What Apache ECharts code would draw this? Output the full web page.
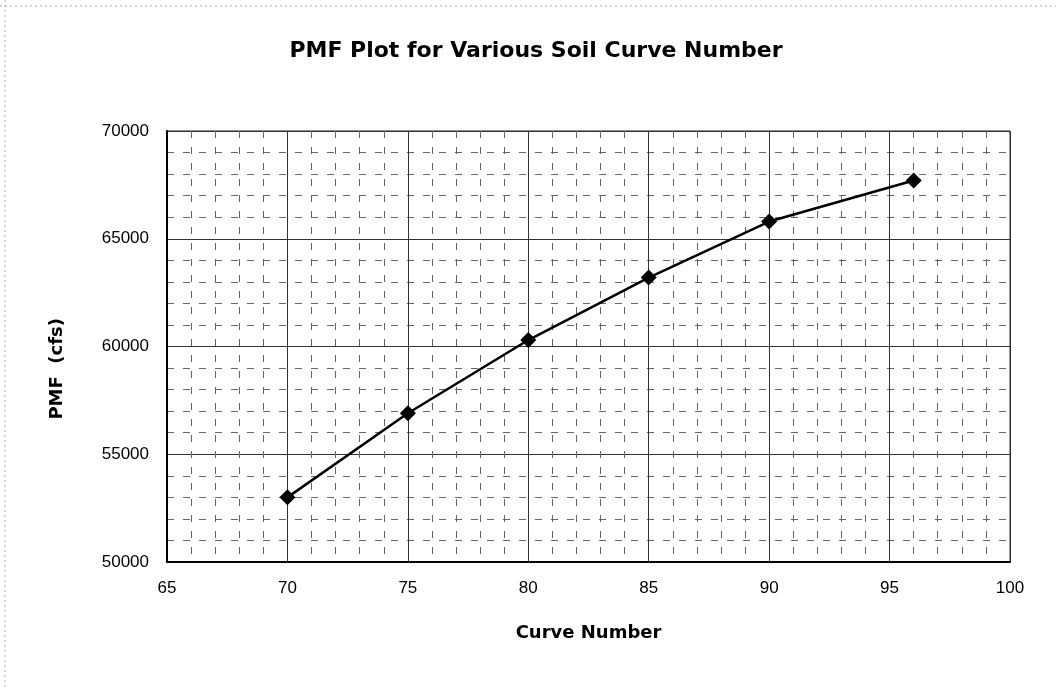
<!DOCTYPE html>
<html>
<head>
<meta charset="utf-8">
<script src="https://cdn.jsdelivr.net/npm/echarts@6/dist/echarts.min.js"></script>
<style>
  html, body { margin: 0; padding: 0; background: #fff; }
  #chart { width: 1056px; height: 687px; }
</style>
</head>
<body>
<div id="chart"></div>
<script>
const curveNumbers = [70, 75, 80, 85, 90, 96];
const pmfValues = [53000, 56900, 60300, 63200, 65800, 67700];
const titleText = 'PMF Plot for Various Soil Curve Number';
const xAxisName = 'Curve Number';
const yAxisName = 'PMF  (cfs)';

const chart = echarts.init(document.getElementById('chart'));
const font = 'Liberation Sans, Arial, sans-serif';
chart.setOption({
  animation: false,
  backgroundColor: '#fff',
  title: {
    text: titleText,
    left: 531, top: 35, textAlign: 'center',
    textStyle: { fontFamily: 'DejaVu Sans', fontSize: 22, fontWeight: 'bold', color: '#000' }
  },
  graphic: [
    { type: 'line', shape: { x1: 0, y1: 6, x2: 1056, y2: 6 }, style: { stroke: '#aaa', lineWidth: 1, lineDash: [2, 3] } },
    { type: 'line', shape: { x1: 5, y1: 0, x2: 5, y2: 687 }, style: { stroke: '#aaa', lineWidth: 1, lineDash: [2, 3] } },
    { type: 'text', left: 48, top: 318, rotation: Math.PI / 2,
      style: { text: yAxisName, fontFamily: 'DejaVu Sans', fontSize: 18, fontWeight: 'bold', fill: '#000' } }
  ],
  grid: { left: 167, right: 46, top: 131, bottom: 125, show: true, borderColor: '#222', borderWidth: 1 },
  xAxis: {
    type: 'value', min: 65, max: 100, interval: 5,
    name: xAxisName, nameLocation: 'middle', nameGap: 62,
    nameTextStyle: { fontFamily: 'DejaVu Sans', fontSize: 18, fontWeight: 'bold', color: '#000' },
    axisLine: { show: true, lineStyle: { color: '#000', width: 2 } },
    axisTick: { show: false },
    axisLabel: { fontFamily: font, fontSize: 17, color: '#000', margin: 18 },
    splitLine: { show: true, lineStyle: { color: '#333', width: 1 } },
    minorTick: { show: false, splitNumber: 5 },
    minorSplitLine: { show: true, lineStyle: { color: '#666', width: 1, type: [7, 9] } }
  },
  yAxis: {
    type: 'value', min: 50000, max: 70000, interval: 5000,
    axisLine: { show: true, lineStyle: { color: '#000', width: 2 } },
    axisTick: { show: false },
    axisLabel: { fontFamily: font, fontSize: 17, color: '#000', margin: 18, formatter: v => String(v) },
    splitLine: { show: true, lineStyle: { color: '#333', width: 1 } },
    minorTick: { show: false, splitNumber: 5 },
    minorSplitLine: { show: true, lineStyle: { color: '#666', width: 1, type: [7, 9] } }
  },
  series: [{
    type: 'line',
    data: curveNumbers.map((x, i) => [x, pmfValues[i]]),
    symbol: 'diamond', symbolSize: 16,
    lineStyle: { color: '#000', width: 2.5 },
    itemStyle: { color: '#000' }
  }]
});
</script>
</body>
</html>
